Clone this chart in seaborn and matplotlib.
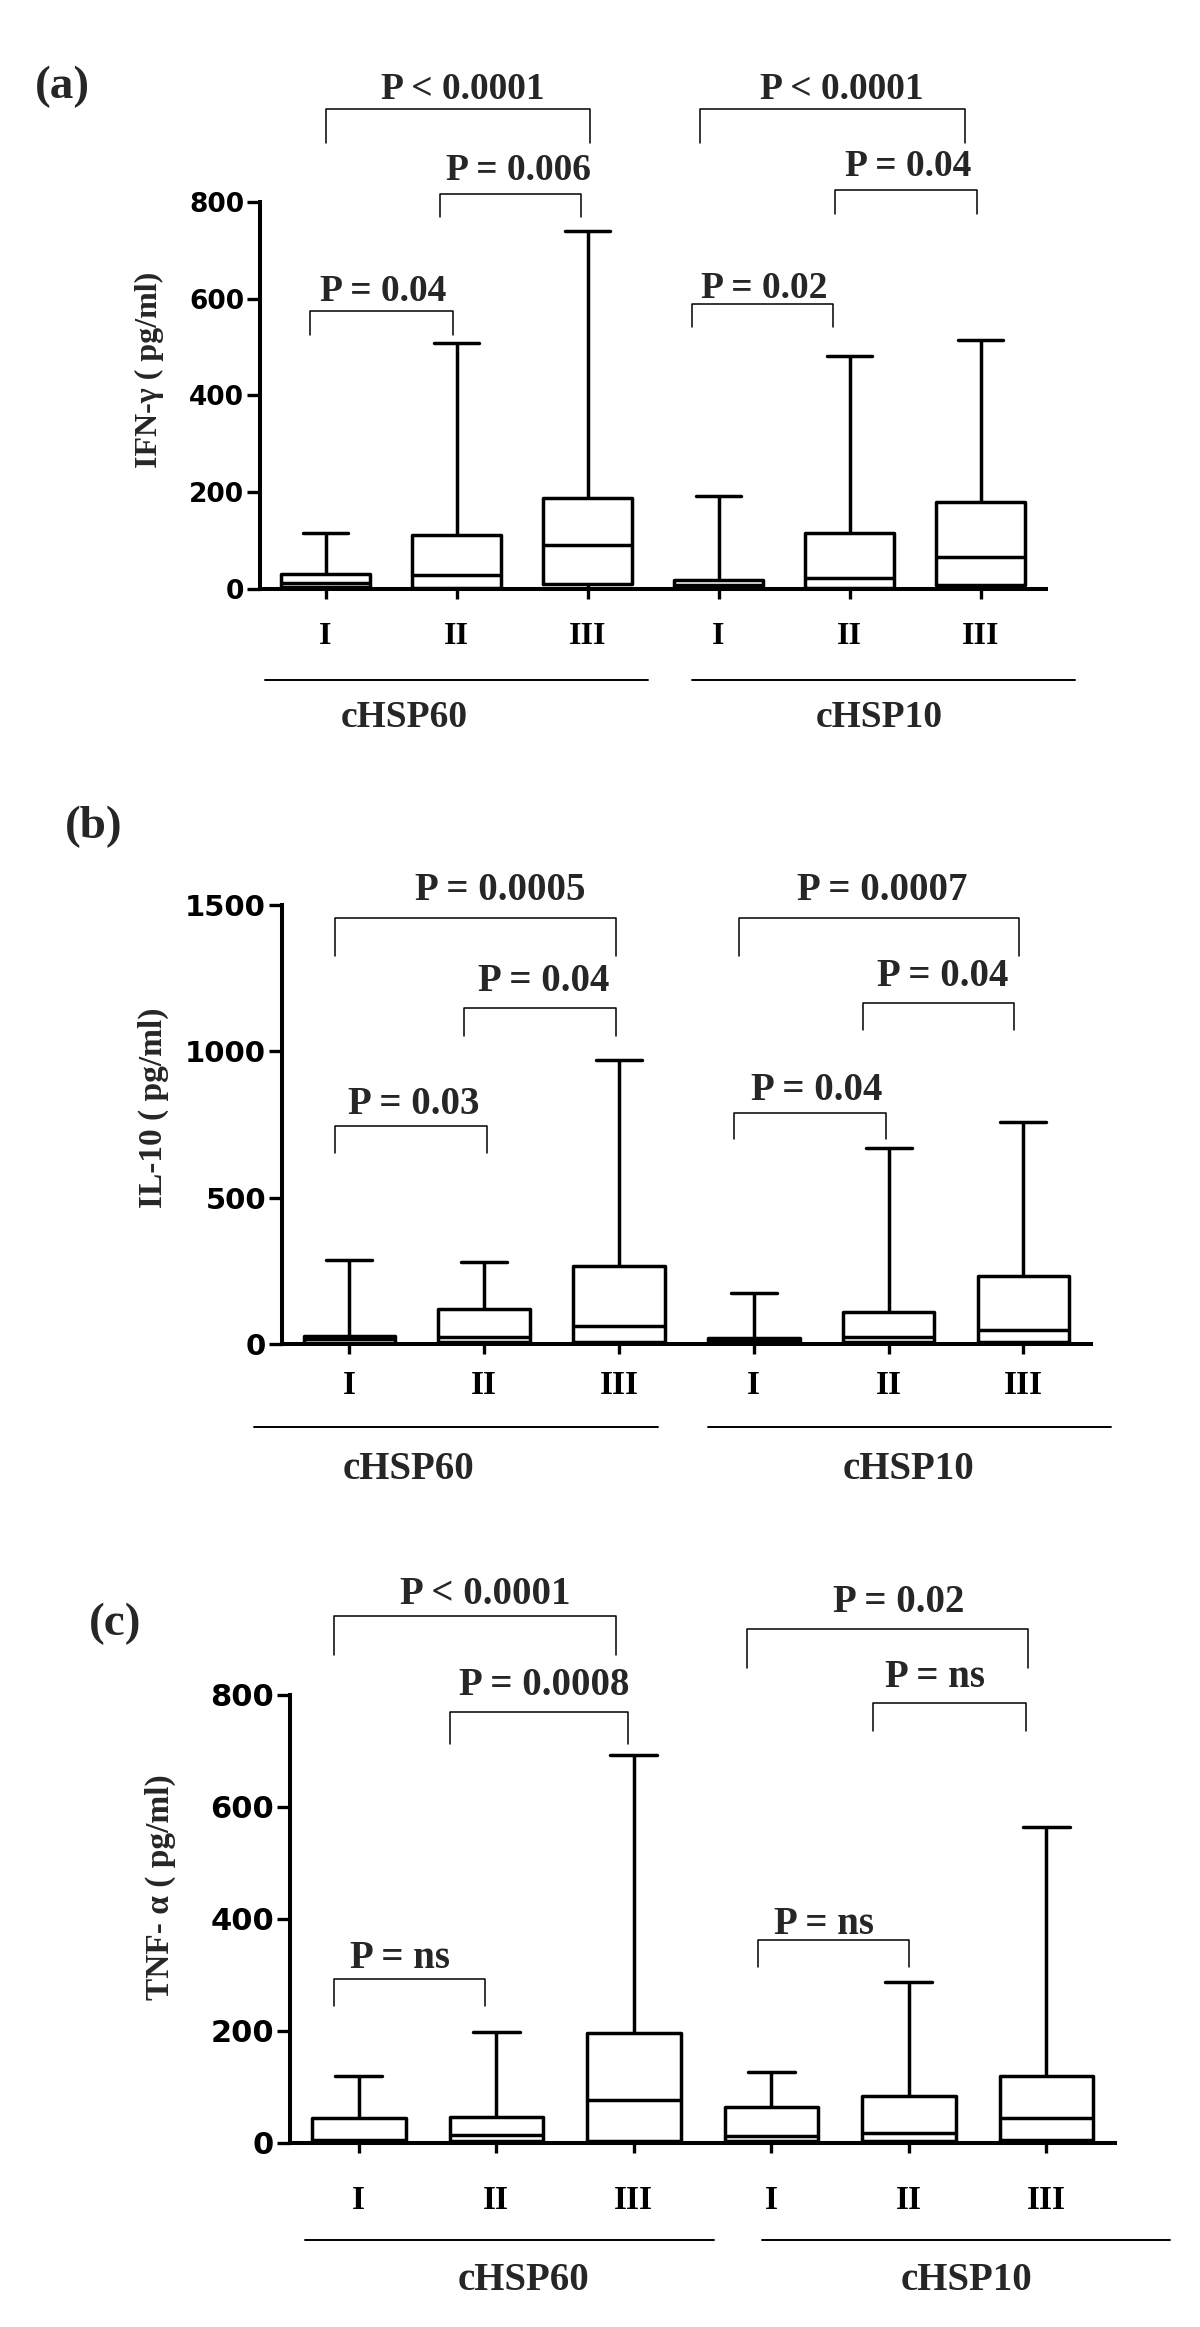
import numpy as np
import pandas as pd
import matplotlib
matplotlib.use("Agg")
import matplotlib.pyplot as plt
import seaborn as sns

sns.set_theme(style="ticks")
plt.rcParams['font.family'] = ['Liberation Serif', 'DejaVu Serif']
plt.rcParams['font.weight'] = 'bold'

# categories
groups = ["cHSP60"] * 3 + ["cHSP10"] * 3
stages = ["I", "II", "III"] * 2
keys = [g + " " + s for g, s in zip(groups, stages)]

# five-number summaries: min, q1, median, q3, max
ifn_min = [0, 0, 0, 0, 0, 0]
ifn_q1 = [5, 3, 11, 4, 3, 8]
ifn_med = [12, 28, 90, 9, 22, 66]
ifn_q3 = [30, 111, 189, 19, 116, 179]
ifn_max = [115, 508, 741, 193, 481, 515]

il10_min = [0, 0, 0, 0, 0, 0]
il10_q1 = [5, 8, 8, 5, 8, 8]
il10_med = [17, 25, 63, 14, 25, 48]
il10_q3 = [29, 119, 267, 22, 110, 231]
il10_max = [287, 279, 972, 175, 671, 758]

tnf_min = [0, 0, 0, 0, 0, 0]
tnf_q1 = [3, 4, 4, 3, 4, 5]
tnf_med = [6, 14, 77, 13, 18, 44]
tnf_q3 = [44, 46, 196, 65, 83, 119]
tnf_max = [120, 199, 692, 126, 288, 564]

# p-value labels for each comparison (I-III, II-III, I-II) per group
ifn_p = ["P < 0.0001", "P = 0.006", "P = 0.04", "P < 0.0001", "P = 0.04", "P = 0.02"]
il10_p = ["P = 0.0005", "P = 0.04", "P = 0.03", "P = 0.0007", "P = 0.04", "P = 0.04"]
tnf_p = ["P < 0.0001", "P = 0.0008", "P = ns", "P = 0.02", "P = ns", "P = ns"]


def summary_frame(mins, q1, med, q3, maxs):
    # the five summary values per box reproduce the box exactly with whis=(0, 100)
    rows = []
    for i, k in enumerate(keys):
        for v in (mins[i], q1[i], med[i], q3[i], maxs[i]):
            rows.append({"key": k, "value": v})
    return pd.DataFrame(rows)


# bracket geometry: x1, x2, top, leg bottom, text x, text y
panels = [
    dict(df=summary_frame(ifn_min, ifn_q1, ifn_med, ifn_q3, ifn_max),
         rect=[0.2167, 0.7469, 0.655, 0.1663], ymax=800, yticks=[0, 200, 400, 600, 800],
         ylabel="IFN-γ ( pg/ml)", letter="(a)", letter_xy=(0.052, 0.9626),
         ylab_xy=(-0.122, 0.566), pvals=ifn_p,
         geom=[(0, 2.02, 992, 921, 1.05, 1032), (0.87, 1.95, 817, 768, 1.47, 866),
               (-0.12, 0.97, 574, 525, 0.44, 614), (2.86, 4.88, 992, 921, 3.94, 1032),
               (3.89, 4.97, 825, 776, 4.45, 874), (2.80, 3.87, 590, 541, 3.35, 622)],
         glines=[(-0.46, 2.46), (2.80, 5.72)], glabx=[0.6, 4.23], gly=-0.235, gty=-0.333,
         fs=dict(ytick=19, xtick=23, p=27, group=27, ylabel=23, letter=34), xpad=17),
    dict(df=summary_frame(il10_min, il10_q1, il10_med, il10_q3, il10_max),
         rect=[0.235, 0.4224, 0.674, 0.1887], ymax=1500, yticks=[0, 500, 1000, 1500],
         ylabel="IL-10 ( pg/ml)", letter="(b)", letter_xy=(0.078, 0.6446),
         ylab_xy=(-0.14, 0.538), pvals=il10_p,
         geom=[(-0.11, 1.98, 1456, 1325, 1.12, 1551), (0.85, 1.98, 1147, 1053, 1.44, 1240),
               (-0.11, 1.02, 744, 654, 0.48, 820), (2.89, 4.97, 1456, 1325, 3.95, 1551),
               (3.81, 4.93, 1164, 1074, 4.40, 1257), (2.85, 3.98, 790, 702, 3.47, 866)],
         glines=[(-0.71, 2.29), (2.66, 5.65)], glabx=[0.44, 4.15], gly=-0.189, gty=-0.285,
         fs=dict(ytick=21, xtick=24, p=28, group=28, ylabel=24, letter=34), xpad=12),
    dict(df=summary_frame(tnf_min, tnf_q1, tnf_med, tnf_q3, tnf_max),
         rect=[0.2417, 0.0791, 0.6875, 0.1925], ymax=800, yticks=[0, 200, 400, 600, 800],
         ylabel="TNF- α ( pg/ml)", letter="(c)", letter_xy=(0.096, 0.3021),
         ylab_xy=(-0.138, 0.571), pvals=tnf_p,
         geom=[(-0.18, 1.87, 941, 872, 0.92, 979), (0.66, 1.96, 769, 712, 1.35, 817),
               (-0.18, 0.92, 293, 245, 0.30, 329), (2.82, 4.87, 918, 848, 3.93, 965),
               (3.74, 4.85, 785, 736, 4.19, 832), (2.90, 4.00, 362, 315, 3.38, 390)],
         glines=[(-0.39, 2.58), (2.93, 5.90)], glabx=[1.20, 4.42], gly=-0.217, gty=-0.306,
         fs=dict(ytick=22, xtick=24, p=28, group=28, ylabel=24, letter=34), xpad=23),
]

fig = plt.figure(figsize=(12, 23.27), dpi=100)
fig.patch.set_facecolor("white")

for p in panels:
    ax = fig.add_axes(p["rect"])
    sns.boxplot(data=p["df"], x="key", y="value", order=keys, whis=(0, 100),
                width=0.68, fill=False, color="black", linewidth=2.5,
                showfliers=False, ax=ax)
    ax.set_xlim(-0.5, 5.5)
    ax.set_ylim(0, p["ymax"])
    fs = p["fs"]
    ax.set_yticks(p["yticks"], labels=[str(t) for t in p["yticks"]],
                  fontfamily="DejaVu Sans", fontweight="bold", fontsize=fs["ytick"])
    ax.set_xticks(range(6), labels=stages, fontweight="bold", fontsize=fs["xtick"])
    ax.tick_params(axis="y", length=9.5, width=2.4, pad=2, colors="black")
    ax.tick_params(axis="x", length=7, width=2.4, pad=p["xpad"], colors="black")
    ax.set_xlabel("")
    ax.set_ylabel(p["ylabel"], fontsize=fs["ylabel"], fontweight="bold")
    ax.yaxis.set_label_coords(*p["ylab_xy"])
    sns.despine(ax=ax)
    for s in ("left", "bottom"):
        ax.spines[s].set_linewidth(2.9)
        ax.spines[s].set_color("black")
    ax.set_facecolor("white")

    # significance brackets
    for (x1, x2, ytop, ybot, tx, ty), txt in zip(p["geom"], p["pvals"]):
        ax.plot([x1, x1, x2, x2], [ybot, ytop, ytop, ybot], color="black",
                lw=1.1, clip_on=False)
        ax.text(tx, ty, txt, ha="center", va="center", fontsize=fs["p"],
                fontweight="bold", clip_on=False)

    # group lines and names under the axis
    xt = ax.get_xaxis_transform()
    for (a0, a1), lx, name in zip(p["glines"], p["glabx"], ["cHSP60", "cHSP10"]):
        ax.plot([a0, a1], [p["gly"], p["gly"]], transform=xt, color="black",
                lw=1.4, clip_on=False)
        ax.text(lx, p["gty"], name, transform=xt, ha="center", va="center",
                fontsize=fs["group"], fontweight="bold")

    fig.text(p["letter_xy"][0], p["letter_xy"][1], p["letter"], ha="center",
             va="center", fontsize=fs["letter"], fontweight="bold")

fig.savefig("out.png", dpi=100, facecolor="white")
